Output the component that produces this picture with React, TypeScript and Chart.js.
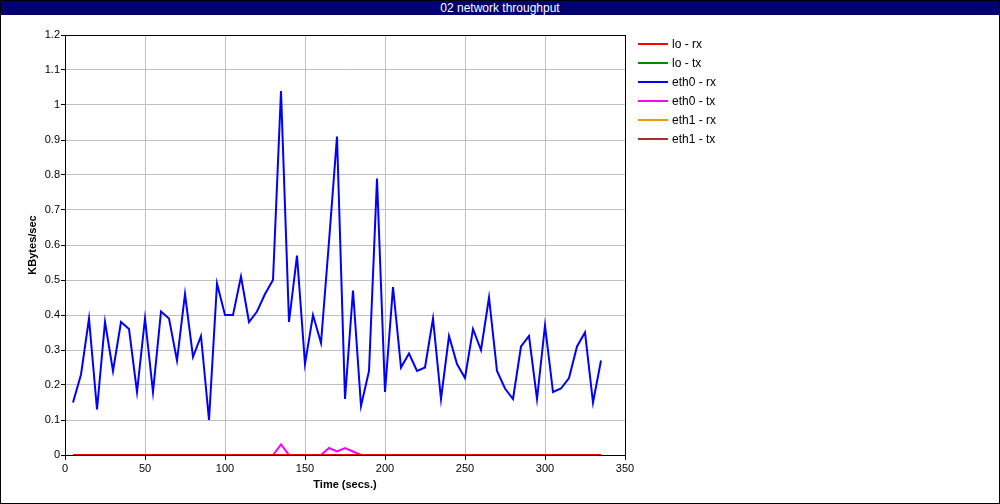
import React, { useEffect, useRef } from "react";
import { Chart, registerables } from "chart.js";

Chart.register(...registerables);

const TITLE = "02 network throughput";
const X_TITLE = "Time (secs.)";
const Y_TITLE = "KBytes/sec";

const SERIES_NAMES = ["lo - rx", "lo - tx", "eth0 - rx", "eth0 - tx", "eth1 - rx", "eth1 - tx"];
const SERIES_COLORS = ["#ff0000", "#008c00", "#0000ff", "#ff00ff", "#f09800", "#a83030"];

const X_TICKS = [0, 50, 100, 150, 200, 250, 300, 350];
const Y_TICKS = [0, 0.1, 0.2, 0.3, 0.4, 0.5, 0.6, 0.7, 0.8, 0.9, 1, 1.1, 1.2];
const Y_TICK_LABELS = ["0", "0.1", "0.2", "0.3", "0.4", "0.5", "0.6", "0.7", "0.8", "0.9", "1", "1.1", "1.2"];

const TIMES = [
  5, 10, 15, 20, 25, 30, 35, 40, 45, 50, 55, 60, 65, 70, 75, 80, 85, 90, 95, 100,
  105, 110, 115, 120, 125, 130, 135, 140, 145, 150, 155, 160, 165, 170, 175, 180, 185, 190, 195, 200,
  205, 210, 215, 220, 225, 230, 235, 240, 245, 250, 255, 260, 265, 270, 275, 280, 285, 290, 295, 300,
  305, 310, 315, 320, 325, 330, 335,
];

const LO_RX = [
  0, 0, 0, 0, 0, 0, 0, 0, 0, 0, 0, 0, 0, 0, 0, 0, 0, 0, 0, 0,
  0, 0, 0, 0, 0, 0, 0, 0, 0, 0, 0, 0, 0, 0, 0, 0, 0, 0, 0, 0,
  0, 0, 0, 0, 0, 0, 0, 0, 0, 0, 0, 0, 0, 0, 0, 0, 0, 0, 0, 0,
  0, 0, 0, 0, 0, 0, 0,
];
const LO_TX = [
  0, 0, 0, 0, 0, 0, 0, 0, 0, 0, 0, 0, 0, 0, 0, 0, 0, 0, 0, 0,
  0, 0, 0, 0, 0, 0, 0, 0, 0, 0, 0, 0, 0, 0, 0, 0, 0, 0, 0, 0,
  0, 0, 0, 0, 0, 0, 0, 0, 0, 0, 0, 0, 0, 0, 0, 0, 0, 0, 0, 0,
  0, 0, 0, 0, 0, 0, 0,
];
const ETH0_RX = [
  0.15, 0.23, 0.39, 0.13, 0.38, 0.24, 0.38, 0.36, 0.18, 0.39, 0.18, 0.41, 0.39, 0.27, 0.46, 0.28, 0.34, 0.10, 0.49, 0.40,
  0.40, 0.51, 0.38, 0.41, 0.46, 0.50, 1.04, 0.38, 0.57, 0.26, 0.40, 0.32, 0.61, 0.91, 0.16, 0.47, 0.14, 0.24, 0.79, 0.18,
  0.48, 0.25, 0.29, 0.24, 0.25, 0.39, 0.16, 0.34, 0.26, 0.22, 0.36, 0.30, 0.45, 0.24, 0.19, 0.16, 0.31, 0.34, 0.16, 0.37,
  0.18, 0.19, 0.22, 0.31, 0.35, 0.15, 0.27,
];
const ETH0_TX = [
  0, 0, 0, 0, 0, 0, 0, 0, 0, 0, 0, 0, 0, 0, 0, 0, 0, 0, 0, 0,
  0, 0, 0, 0, 0, 0, 0.03, 0, 0, 0, 0, 0, 0.02, 0.01, 0.02, 0.01, 0, 0, 0, 0,
  0, 0, 0, 0, 0, 0, 0, 0, 0, 0, 0, 0, 0, 0, 0, 0, 0, 0, 0, 0,
  0, 0, 0, 0, 0, 0, 0,
];
const ETH1_RX = [
  0, 0, 0, 0, 0, 0, 0, 0, 0, 0, 0, 0, 0, 0, 0, 0, 0, 0, 0, 0,
  0, 0, 0, 0, 0, 0, 0, 0, 0, 0, 0, 0, 0, 0, 0, 0, 0, 0, 0, 0,
  0, 0, 0, 0, 0, 0, 0, 0, 0, 0, 0, 0, 0, 0, 0, 0, 0, 0, 0, 0,
  0, 0, 0, 0, 0, 0, 0,
];
const ETH1_TX = [
  0, 0, 0, 0, 0, 0, 0, 0, 0, 0, 0, 0, 0, 0, 0, 0, 0, 0, 0, 0,
  0, 0, 0, 0, 0, 0, 0, 0, 0, 0, 0, 0, 0, 0, 0, 0, 0, 0, 0, 0,
  0, 0, 0, 0, 0, 0, 0, 0, 0, 0, 0, 0, 0, 0, 0, 0, 0, 0, 0, 0,
  0, 0, 0, 0, 0, 0, 0,
];

const SERIES_VALUES = [LO_RX, LO_TX, ETH0_RX, ETH0_TX, ETH1_RX, ETH1_TX];

const FONT = "'Liberation Sans', Arial, Helvetica, sans-serif";

const framePlugin = {
  id: "frame",
  beforeDatasetsDraw(chart: any) {
    const { ctx, chartArea } = chart;
    const { left, top, right, bottom } = chartArea;
    ctx.save();
    ctx.strokeStyle = "#000";
    ctx.lineWidth = 1;
    ctx.beginPath();
    ctx.moveTo(left, Math.round(top) + 0.5);
    ctx.lineTo(Math.round(right) + 1, Math.round(top) + 0.5);
    ctx.moveTo(Math.round(right) + 0.5, top);
    ctx.lineTo(Math.round(right) + 0.5, bottom);
    ctx.stroke();
    ctx.restore();
  },
};

export default function App() {
  const canvasRef = useRef<HTMLCanvasElement | null>(null);

  useEffect(() => {
    const canvas = canvasRef.current;
    if (!canvas) return;
    Chart.defaults.font.family = FONT;
    const datasets = SERIES_NAMES.map((name, i) => ({
      label: name,
      data: TIMES.map((t, j) => ({ x: t, y: SERIES_VALUES[i][j] })),
      borderColor: SERIES_COLORS[i],
      backgroundColor: SERIES_COLORS[i],
      borderWidth: 2,
      pointRadius: 0,
      tension: 0,
      fill: false,
    }));
    const chart = new Chart(canvas, {
      type: "line",
      data: { datasets },
      plugins: [framePlugin],
      options: {
        animation: false,
        responsive: false,
        maintainAspectRatio: false,
        devicePixelRatio: 1,
        layout: { padding: { top: 35, right: 375, left: 0, bottom: 0 } },
        plugins: {
          legend: { display: false },
          title: { display: false },
          tooltip: { enabled: false },
        },
        scales: {
          x: {
            type: "linear",
            min: 0,
            max: 350,
            afterBuildTicks: (scale: any) => {
              scale.ticks = X_TICKS.map((v) => ({ value: v }));
            },
            ticks: {
              color: "#000",
              font: { size: 11, family: FONT },
              padding: 2,
              maxRotation: 0,
              autoSkip: false,
              callback: (v: any) => String(v),
            },
            grid: { color: "#c0c0c0", tickColor: "#000", tickLength: 5, lineWidth: 1 },
            border: { color: "#000", width: 1 },
            title: {
              display: true,
              text: X_TITLE,
              color: "#000",
              font: { size: 11, weight: "bold", family: FONT },
              padding: { top: 0, bottom: 12 },
            },
            afterFit: (scale: any) => {
              scale.height = 49;
            },
          },
          y: {
            type: "linear",
            min: 0,
            max: 1.2,
            afterBuildTicks: (scale: any) => {
              scale.ticks = Y_TICKS.map((v) => ({ value: v }));
            },
            ticks: {
              color: "#000",
              font: { size: 11, family: FONT },
              padding: 1,
              autoSkip: false,
              callback: (_v: any, idx: number) => Y_TICK_LABELS[idx],
            },
            grid: { color: "#c0c0c0", tickColor: "#000", tickLength: 4, lineWidth: 1 },
            border: { color: "#000", width: 1 },
            title: {
              display: true,
              text: Y_TITLE,
              color: "#000",
              font: { size: 11, weight: "bold", family: FONT },
              padding: { top: 26, bottom: 0 },
            },
            afterFit: (scale: any) => {
              scale.width = 65;
            },
          },
        },
      },
    } as any);
    return () => {
      chart.destroy();
    };
  }, []);

  return (
    <div
      style={{
        position: "fixed",
        left: 0,
        top: 0,
        width: 1000,
        height: 504,
        background: "#fff",
        fontFamily: FONT,
      }}
    >
      <canvas
        ref={canvasRef}
        width={1000}
        height={504}
        style={{ position: "absolute", left: 0, top: 0, width: 1000, height: 504 }}
      />
      <div
        style={{
          position: "absolute",
          left: 0,
          top: 0,
          width: 1000,
          height: 504,
          boxSizing: "border-box",
          border: "1px solid #000",
          pointerEvents: "none",
        }}
      />
      <div
        style={{
          position: "absolute",
          left: 1,
          top: 1,
          width: 998,
          height: 14,
          background: "#000070",
          color: "#fff",
          fontSize: 12,
          lineHeight: "14px",
          textAlign: "center",
          whiteSpace: "nowrap",
        }}
      >
        {TITLE}
      </div>
      {SERIES_NAMES.map((name, i) => (
        <React.Fragment key={name}>
          <div
            style={{
              position: "absolute",
              left: 638,
              top: 43 + i * 19,
              width: 30,
              height: 2,
              background: SERIES_COLORS[i],
            }}
          />
          <div
            style={{
              position: "absolute",
              left: 672,
              top: 37 + i * 19,
              height: 14,
              lineHeight: "14px",
              fontSize: 12,
              color: "#000",
              whiteSpace: "nowrap",
            }}
          >
            {name}
          </div>
        </React.Fragment>
      ))}
    </div>
  );
}
